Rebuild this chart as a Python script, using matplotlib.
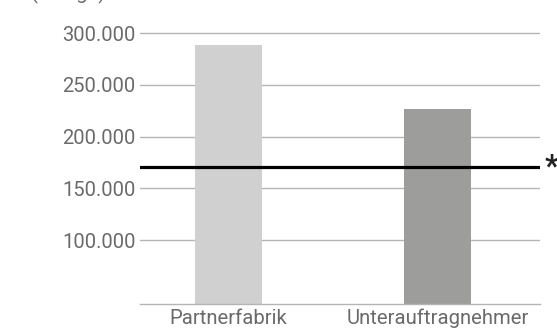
import matplotlib
matplotlib.use("Agg")
import matplotlib.pyplot as plt
import matplotlib.transforms as mtransforms

categories = ["Partnerfabrik", "Unterauftragnehmer"]
values = [289000, 226500]
reference_value = 171000
ytick_values = [100000, 150000, 200000, 250000, 300000]
ytick_labels = ["100.000", "150.000", "200.000", "250.000", "300.000"]
unit_label = "(Menge)"

bar_colors = ["#d0d0d0", "#9d9d9b"]
grid_color = "#b4b4b4"
text_color = "#6a6a6a"

plt.rcParams["font.family"] = ["Roboto", "DejaVu Sans"]

W, H = 557, 331
fig = plt.figure(figsize=(W / 100, H / 100), dpi=100)

ax_left, ax_right = 140, 540
ax_bottom, ax_top = 304, 28
ax = fig.add_axes([ax_left / W, 1 - ax_bottom / H,
                   (ax_right - ax_left) / W, (ax_bottom - ax_top) / H])

ymin, ymax = 38200, 305000
ax.set_ylim(ymin, ymax)
ax.set_xlim(-0.4234, 1.4904)

x = list(range(len(categories)))
ax.bar(x, values, width=0.32, color=bar_colors, zorder=2)

ax.set_yticks(ytick_values)
ax.set_yticklabels(ytick_labels)
ax.yaxis.grid(True, color=grid_color, linewidth=1.0, zorder=1)
ax.set_axisbelow(True)

ax.set_xticks(x)
ax.set_xticklabels(categories)

for s in ["top", "right", "left"]:
    ax.spines[s].set_visible(False)
ax.spines["bottom"].set_color(grid_color)
ax.spines["bottom"].set_linewidth(1.0)

ax.tick_params(axis="y", length=0, pad=3, labelsize=14.5, labelcolor=text_color)
ax.tick_params(axis="x", length=0, pad=3.5, labelsize=14.6, labelcolor=text_color)

ax.axhline(reference_value, color="black", linewidth=2.3, zorder=3)
trans = mtransforms.blended_transform_factory(ax.transAxes, ax.transData)
ax.text(1.012, reference_value, "*", transform=trans, ha="left", va="center",
        fontsize=22, fontweight="bold", color="#222222", clip_on=False)

fig.text(31 / W, 1 + 1 / H, unit_label, ha="left", va="baseline",
         fontsize=14.5, color=text_color)

fig.savefig("out.png", dpi=100, facecolor="white")
